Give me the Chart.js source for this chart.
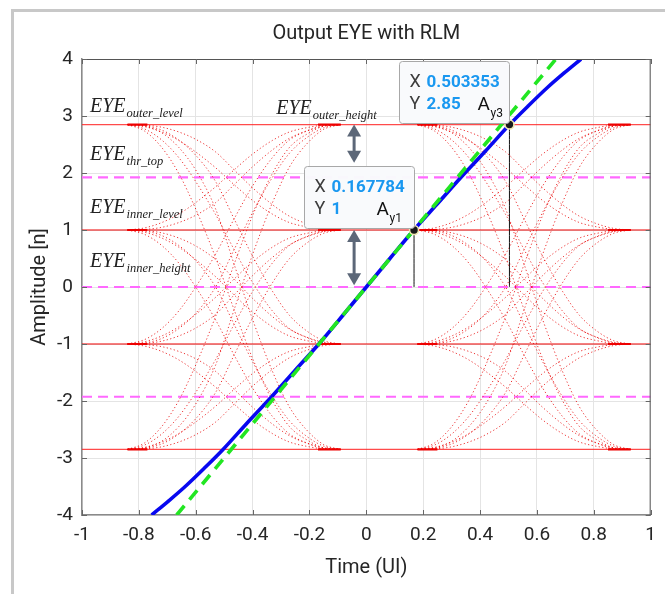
<!DOCTYPE html>
<html><head><meta charset="utf-8">
<script src="https://cdn.jsdelivr.net/npm/chart.js@4"></script>
<style>
html,body{margin:0;padding:0;background:#fff;overflow:hidden;}
#wrap{position:relative;width:665px;height:594px;}
#frame{position:absolute;left:11px;top:9px;width:670px;height:600px;border-left:3px solid #c8c8c8;border-top:3px solid #c8c8c8;}
canvas{position:absolute;left:0;top:0;}
</style></head><body>
<div id="wrap"><div id="frame"></div><canvas id="c" width="665" height="594"></canvas></div>
<script>
// ---- tick values / labels ----
const xTickValues = [-1, -0.8, -0.6, -0.4, -0.2, 0, 0.2, 0.4, 0.6, 0.8, 1];
const xTickLabels = ['-1', '-0.8', '-0.6', '-0.4', '-0.2', '0', '0.2', '0.4', '0.6', '0.8', '1'];
const yTickValues = [-4, -3, -2, -1, 0, 1, 2, 3, 4];
const yTickLabels = ['-4', '-3', '-2', '-1', '0', '1', '2', '3', '4'];

// ---- eye levels & thresholds ----
const eyeLevels = [2.85, 1, -1, -2.85];
const thresholdLevels = [1.925, 0, -1.925];
const levelSpan = [-1, 1];

// ---- eye transition sampling times (UI) for the two crossings ----
const eyeTimesLeft  = [-0.84, -0.78, -0.72, -0.66, -0.60, -0.53, -0.465, -0.40, -0.33, -0.27, -0.21, -0.15, -0.09];
const eyeTimesRight = [0.18, 0.24, 0.30, 0.36, 0.42, 0.49, 0.555, 0.62, 0.69, 0.75, 0.81, 0.87, 0.93];
// normalized transition shapes (fraction of the step reached)
const strandEarly = [0, 0.02, 0.07, 0.15, 0.26, 0.41, 0.57, 0.72, 0.85, 0.93, 0.97, 0.995, 1];
const strandLate  = [0, 0.005, 0.025, 0.07, 0.14, 0.26, 0.43, 0.60, 0.76, 0.87, 0.94, 0.985, 1];
// dense settling segments on the levels
const plateauStartsLeft  = [-0.84, -0.77];
const plateauEndsLeft    = [-0.17, -0.09];
const plateauStartsRight = [0.18, 0.25];
const plateauEndsRight   = [0.85, 0.93];

// ---- RLM fit curve (blue) and linear reference (green) ----
const blueTime = [-0.755, -0.697, -0.637, -0.57, -0.504, -0.42, -0.334, -0.25, -0.167, -0.083, 0, 0.083, 0.167, 0.25, 0.334, 0.42, 0.504, 0.57, 0.637, 0.697, 0.755];
const blueAmp  = [-4, -3.76, -3.5, -3.18, -2.85, -2.39, -1.93, -1.46, -1, -0.5, 0, 0.5, 1, 1.46, 1.93, 2.39, 2.85, 3.18, 3.5, 3.76, 4];
const greenTime = [-0.667, 0.667];
const greenAmp  = [-4, 4];

// ---- data tips ----
const tipTime = [0.167784, 0.503353];
const tipAmp  = [1, 2.85];
const tipSub  = ['y1', 'y3'];

// ---- height arrows ----
const arrowTime = -0.043;
const arrowFrom = [2.85, 1];
const arrowTo   = [2.18, 0.03];

// ---- text annotations ----
const annoMain = ['EYE', 'EYE', 'EYE', 'EYE', 'EYE'];
const annoSub  = ['outer_level', 'thr_top', 'inner_level', 'inner_height', 'outer_height'];

const datasets = [];
function addLine(data, style, order) {
  datasets.push(Object.assign({data: data, showLine: true, pointRadius: 0, pointHoverRadius: 0, order: order, cubicInterpolationMode: 'monotone'}, style));
}

// level lines
eyeLevels.forEach(function (L) {
  const outer = Math.abs(L) > 2;
  addLine(levelSpan.map(function (t) { return {x: t, y: L}; }),
    {borderColor: outer ? 'rgba(255,30,30,0.8)' : '#ee0000', borderWidth: 1.2}, 8);
});
// thresholds
thresholdLevels.forEach(function (L) {
  addLine(levelSpan.map(function (t) { return {x: t, y: L}; }),
    {borderColor: 'rgb(255,105,255)', borderWidth: 2.2, borderDash: [10, 6]}, 7);
});
// eye traces
const strands = [strandEarly, strandLate];
[eyeTimesLeft, eyeTimesRight].forEach(function (times) {
  eyeLevels.forEach(function (from) {
    eyeLevels.forEach(function (to) {
      if (from === to) return;
      strands.forEach(function (p) {
        addLine(times.map(function (t, i) { return {x: t, y: from + (to - from) * p[i]}; }),
          {borderColor: 'rgba(232,0,0,0.8)', borderWidth: 1, borderDash: [1.2, 2.4]}, 6);
      });
    });
  });
});
// plateaus
[plateauStartsLeft, plateauEndsLeft, plateauStartsRight, plateauEndsRight].forEach(function (seg) {
  eyeLevels.forEach(function (L) {
    addLine(seg.map(function (t) { return {x: t, y: L}; }), {borderColor: '#ee0000', borderWidth: 2.2}, 5);
  });
});
// stems
tipTime.forEach(function (t, i) {
  addLine([{x: t, y: 0}, {x: t, y: tipAmp[i]}], {borderColor: '#111', borderWidth: 1}, 4);
});
// blue
addLine(blueTime.map(function (t, i) { return {x: t, y: blueAmp[i]}; }), {borderColor: '#0808f0', borderWidth: 3.6}, 3);
// green dashed
addLine(greenTime.map(function (t, i) { return {x: t, y: greenAmp[i]}; }), {borderColor: '#22e622', borderWidth: 3.6, borderDash: [12, 8]}, 2);
// markers
datasets.push({data: tipTime.map(function (t, i) { return {x: t, y: tipAmp[i]}; }), showLine: false,
  pointRadius: 4.5, pointHoverRadius: 4.5, pointBackgroundColor: '#1a1a1a', pointBorderColor: '#efe6b0', pointBorderWidth: 1.6, order: 0});

const overlay = {
  id: 'overlay',
  afterDatasetsDraw: function (chart) {
    const ctx = chart.ctx, xs = chart.scales.x, ys = chart.scales.y, a = chart.chartArea;
    ctx.save();
    // box lines top/right + inner ticks
    ctx.strokeStyle = '#555';
    ctx.lineWidth = 1;
    ctx.beginPath();
    ctx.moveTo(a.left, a.top + 0.5); ctx.lineTo(a.right, a.top + 0.5);
    ctx.moveTo(a.right - 0.5, a.top); ctx.lineTo(a.right - 0.5, a.bottom);
    ctx.stroke();
    ctx.strokeStyle = '#666';
    ctx.beginPath();
    xTickValues.forEach(function (v) {
      const px = Math.round(xs.getPixelForValue(v)) + 0.5;
      ctx.moveTo(px, a.bottom); ctx.lineTo(px, a.bottom - 5);
      ctx.moveTo(px, a.top); ctx.lineTo(px, a.top + 5);
    });
    yTickValues.forEach(function (v) {
      const py = Math.round(ys.getPixelForValue(v)) + 0.5;
      ctx.moveTo(a.left, py); ctx.lineTo(a.left + 5, py);
      ctx.moveTo(a.right, py); ctx.lineTo(a.right - 5, py);
    });
    ctx.stroke();

    // arrows
    const ax = xs.getPixelForValue(arrowTime);
    ctx.fillStyle = '#5c6778';
    ctx.strokeStyle = '#5c6778';
    ctx.lineWidth = 3;
    arrowFrom.forEach(function (f, i) {
      const y1 = ys.getPixelForValue(f), y2 = ys.getPixelForValue(arrowTo[i]);
      const hh = 12, hw = 7;
      ctx.beginPath(); ctx.moveTo(ax, y1 + hh - 1); ctx.lineTo(ax, y2 - hh + 1); ctx.stroke();
      ctx.beginPath(); ctx.moveTo(ax, y1); ctx.lineTo(ax - hw, y1 + hh); ctx.lineTo(ax + hw, y1 + hh); ctx.closePath(); ctx.fill();
      ctx.beginPath(); ctx.moveTo(ax, y2); ctx.lineTo(ax - hw, y2 - hh); ctx.lineTo(ax + hw, y2 - hh); ctx.closePath(); ctx.fill();
    });

    // annotations
    const ap = chart.options.plugins.overlay.annotations;
    ctx.fillStyle = '#222';
    ctx.textBaseline = 'alphabetic';
    ctx.textAlign = 'left';
    annoMain.forEach(function (m, i) {
      const px = xs.getPixelForValue(ap[i][0]), py = ys.getPixelForValue(ap[i][1]);
      ctx.font = 'italic 20px "Liberation Serif"';
      ctx.fillText(m, px, py);
      const w = ctx.measureText(m).width;
      ctx.font = 'italic 12.5px "Liberation Serif"';
      ctx.fillText(annoSub[i], px + w + 1, py + 5);
    });

    // data tips
    const tipOff = chart.options.plugins.overlay.tipLabelOffset;
    tipTime.forEach(function (t, i) {
      const px = xs.getPixelForValue(t), py = ys.getPixelForValue(tipAmp[i]);
      const w = 110, h = 62, bx = Math.round(px - w) + 0.5, by = Math.round(py - 2 - h) + 0.5, r = 3;
      ctx.beginPath();
      ctx.moveTo(bx + r, by); ctx.lineTo(bx + w - r, by); ctx.quadraticCurveTo(bx + w, by, bx + w, by + r);
      ctx.lineTo(bx + w, by + h - r); ctx.quadraticCurveTo(bx + w, by + h, bx + w - r, by + h);
      ctx.lineTo(bx + r, by + h); ctx.quadraticCurveTo(bx, by + h, bx, by + h - r);
      ctx.lineTo(bx, by + r); ctx.quadraticCurveTo(bx, by, bx + r, by);
      ctx.closePath();
      ctx.fillStyle = 'rgba(249,250,252,0.98)';
      ctx.fill();
      ctx.strokeStyle = '#a8a8a8'; ctx.lineWidth = 1; ctx.stroke();
      ctx.textBaseline = 'middle';
      ctx.font = '18px Roboto'; ctx.fillStyle = '#3d3d3d';
      ctx.fillText('X', bx + 10, by + 21);
      ctx.fillText('Y', bx + 10, by + 43);
      ctx.font = 'bold 17px Roboto'; ctx.fillStyle = '#1a98f0';
      ctx.fillText(String(t), bx + 27, by + 21);
      ctx.fillText(String(tipAmp[i]), bx + 27, by + 43);
      ctx.font = '19px Roboto'; ctx.fillStyle = '#111';
      ctx.fillText('A', bx + tipOff[i], by + 44);
      ctx.font = '12px Roboto';
      ctx.fillText(tipSub[i], bx + tipOff[i] + 13, by + 52);
    });
    ctx.restore();
  }
};

new Chart(document.getElementById('c'), {
  type: 'scatter',
  data: {datasets: datasets},
  plugins: [overlay],
  options: {
    responsive: false,
    animation: false,
    devicePixelRatio: 1,
    layout: {padding: {left: 0, right: 9, top: 0, bottom: 0}},
    plugins: {
      legend: {display: false},
      tooltip: {enabled: false},
      title: {display: true, fullSize: false, text: 'Output EYE with RLM', color: '#262626',
        font: {family: 'Roboto', size: 20, weight: 'normal'}, padding: {top: 22, bottom: 13}},
      overlay: {
        annotations: [[-0.972, 3.07], [-0.972, 2.23], [-0.972, 1.29], [-0.972, 0.356], [-0.317, 3.035]],
        tipLabelOffset: [72, 78]
      }
    },
    scales: {
      x: {
        type: 'linear', position: 'bottom', min: -1, max: 1,
        afterBuildTicks: function (s) { s.ticks = xTickValues.map(function (v) { return {value: v}; }); },
        afterFit: function (s) { s.height = 79; },
        ticks: {padding: 9, color: '#262626', font: {family: 'Roboto', size: 19},
          maxRotation: 0, autoSkip: false,
          callback: function (v, i) { return xTickLabels[i]; }},
        grid: {color: '#e4e4e4', lineWidth: 1, drawTicks: false},
        border: {display: true, color: '#8a8a8a', width: 1.5},
        title: {display: true, text: 'Time (UI)', color: '#262626',
          font: {family: 'Roboto', size: 20}, padding: {top: 0, bottom: 14}}
      },
      y: {
        type: 'linear', position: 'left', min: -4, max: 4,
        afterBuildTicks: function (s) { s.ticks = yTickValues.map(function (v) { return {value: v}; }); },
        afterFit: function (s) { s.width = 82; },
        ticks: {padding: 9, color: '#262626', font: {family: 'Roboto', size: 19}, autoSkip: false,
          callback: function (v, i) { return yTickLabels[i]; }},
        grid: {color: '#e4e4e4', lineWidth: 1, drawTicks: false},
        border: {display: true, color: '#8a8a8a', width: 1.5},
        title: {display: true, text: 'Amplitude [n]', color: '#262626',
          font: {family: 'Roboto', size: 20}, padding: {top: 28, bottom: 0}}
      }
    }
  }
});
</script>
</body></html>
